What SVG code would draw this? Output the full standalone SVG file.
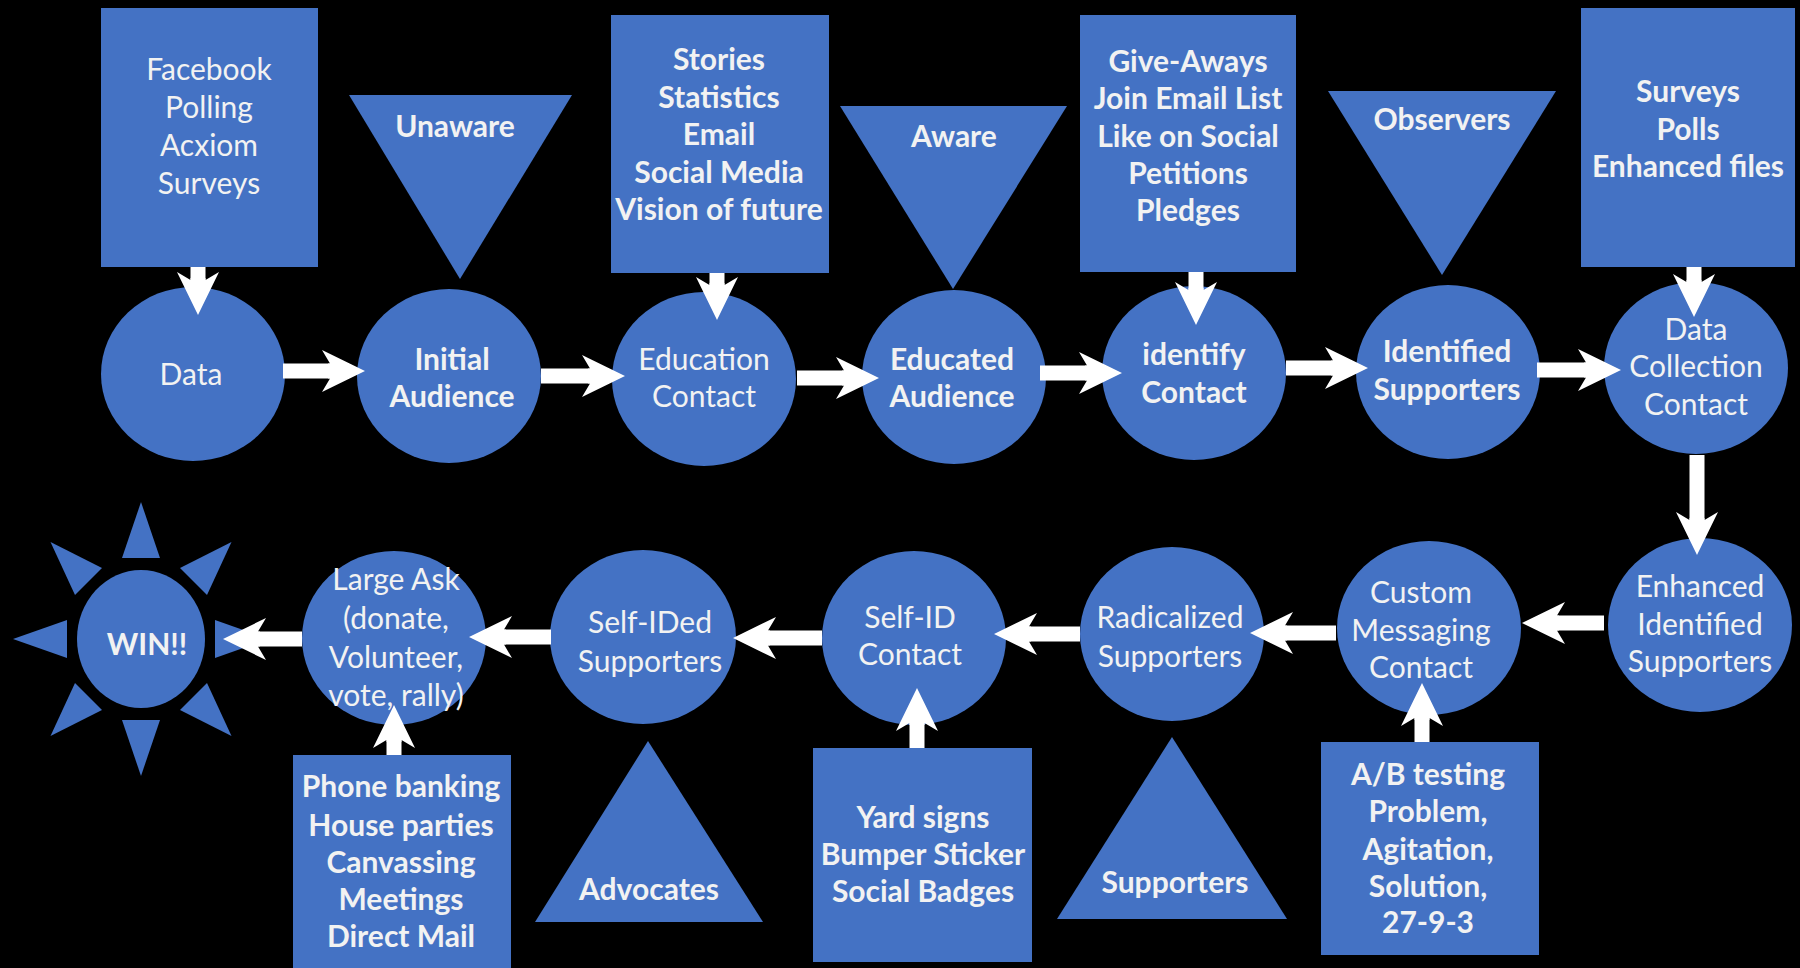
<svg xmlns="http://www.w3.org/2000/svg" width="1800" height="968" viewBox="0 0 1800 968">
<defs>
<style>
.bg{fill:#000}
.sh{fill:#4472C4}
.t{font-family:Lato,"Liberation Sans",sans-serif;font-size:30px;fill:#F2F2F2;text-anchor:middle}
.b{font-weight:bold}
.c{stroke:#FFFFFF;stroke-width:15;fill:none;marker-end:url(#ah)}
</style>
<marker id="ah" markerUnits="userSpaceOnUse" viewBox="0 0 43 42" refX="8" refY="21" markerWidth="43" markerHeight="42" orient="auto">
<path d="M0,0 L43,21 L0,42 L8,28.5 L6,28.5 L6,13.5 L8,13.5 Z" fill="#FFFFFF"/>
</marker>
</defs>
<rect class="bg" x="0" y="0" width="1800" height="968"/>

<!-- top boxes -->
<g id="box-facebook">
<rect class="sh" x="101" y="8" width="217" height="259"/>
<text class="t"><tspan x="209" y="80">Facebook</tspan><tspan x="209" y="118">Polling</tspan><tspan x="209" y="156">Acxiom</tspan><tspan x="209" y="194">Surveys</tspan></text>
</g>
<g id="box-stories">
<rect class="sh" x="611" y="15" width="218" height="258"/>
<text class="t b"><tspan x="719" y="70">Stories</tspan><tspan x="719" y="108">Statistics</tspan><tspan x="719" y="145">Email</tspan><tspan x="719" y="183">Social Media</tspan><tspan x="719" y="220">Vision of future</tspan></text>
</g>
<g id="box-giveaways">
<rect class="sh" x="1080" y="15" width="216" height="257"/>
<text class="t b"><tspan x="1188" y="72">Give-Aways</tspan><tspan x="1188" y="109">Join Email List</tspan><tspan x="1188" y="147">Like on Social</tspan><tspan x="1188" y="184">Petitions</tspan><tspan x="1188" y="221">Pledges</tspan></text>
</g>
<g id="box-surveys">
<rect class="sh" x="1581" y="8" width="214" height="259"/>
<text class="t b"><tspan x="1688" y="102">Surveys</tspan><tspan x="1688" y="140">Polls</tspan><tspan x="1688" y="177">Enhanced files</tspan></text>
</g>

<!-- top triangles -->
<g id="tri-unaware">
<polygon class="sh" points="349,95 572,95 460,279"/>
<text class="t b" x="455" y="137">Unaware</text>
</g>
<g id="tri-aware">
<polygon class="sh" points="840,106 1067,106 953,289"/>
<text class="t b" x="954" y="147">Aware</text>
</g>
<g id="tri-observers">
<polygon class="sh" points="1328,91 1556,91 1442,275"/>
<text class="t b" x="1442" y="130">Observers</text>
</g>

<!-- top circles -->
<g id="c-data">
<ellipse class="sh" cx="193" cy="374" rx="92" ry="87"/>
<text class="t" x="191" y="385">Data</text>
</g>
<g id="c-initial">
<ellipse class="sh" cx="449" cy="376" rx="92" ry="87"/>
<text class="t b"><tspan x="452" y="370">Initial</tspan><tspan x="452" y="407">Audience</tspan></text>
</g>
<g id="c-education">
<ellipse class="sh" cx="704" cy="379" rx="92" ry="87"/>
<text class="t"><tspan x="704" y="370">Education</tspan><tspan x="704" y="407">Contact</tspan></text>
</g>
<g id="c-educated">
<ellipse class="sh" cx="954" cy="377" rx="92" ry="87"/>
<text class="t b"><tspan x="952" y="370">Educated</tspan><tspan x="952" y="407">Audience</tspan></text>
</g>
<g id="c-identify">
<ellipse class="sh" cx="1194" cy="373" rx="92" ry="87"/>
<text class="t b"><tspan x="1194" y="365">identify</tspan><tspan x="1194" y="403">Contact</tspan></text>
</g>
<g id="c-identified">
<ellipse class="sh" cx="1448" cy="372" rx="92" ry="87"/>
<text class="t b"><tspan x="1447" y="362">Identified</tspan><tspan x="1447" y="400">Supporters</tspan></text>
</g>
<g id="c-datacollection">
<ellipse class="sh" cx="1696" cy="368" rx="92" ry="86"/>
<text class="t"><tspan x="1696" y="340">Data</tspan><tspan x="1696" y="377">Collection</tspan><tspan x="1696" y="415">Contact</tspan></text>
</g>

<!-- bottom circles -->
<g id="c-enhanced">
<ellipse class="sh" cx="1700" cy="625" rx="92" ry="87"/>
<text class="t"><tspan x="1700" y="597">Enhanced</tspan><tspan x="1700" y="635">Identified</tspan><tspan x="1700" y="672">Supporters</tspan></text>
</g>
<g id="c-custom">
<ellipse class="sh" cx="1429" cy="628" rx="92" ry="87"/>
<text class="t"><tspan x="1421" y="603">Custom</tspan><tspan x="1421" y="641">Messaging</tspan><tspan x="1421" y="678">Contact</tspan></text>
</g>
<g id="c-radicalized">
<ellipse class="sh" cx="1172" cy="634" rx="92" ry="87"/>
<text class="t"><tspan x="1170" y="628">Radicalized</tspan><tspan x="1170" y="667">Supporters</tspan></text>
</g>
<g id="c-selfid">
<ellipse class="sh" cx="914" cy="638" rx="92" ry="87"/>
<text class="t"><tspan x="910" y="628">Self-ID</tspan><tspan x="910" y="665">Contact</tspan></text>
</g>
<g id="c-selfided">
<ellipse class="sh" cx="643" cy="637" rx="93" ry="87"/>
<text class="t"><tspan x="650" y="633">Self-IDed</tspan><tspan x="650" y="672">Supporters</tspan></text>
</g>
<g id="c-largeask">
<ellipse class="sh" cx="394" cy="638" rx="92" ry="87"/>
<text class="t"><tspan x="396" y="590">Large Ask</tspan><tspan x="396" y="629">(donate,</tspan><tspan x="396" y="668">Volunteer,</tspan><tspan x="396" y="706">vote, rally)</tspan></text>
</g>

<!-- sun -->
<g id="sun-win">
<ellipse class="sh" cx="141" cy="639" rx="64" ry="69"/>
<polygon class="sh" points="141,502 122,558 160,558"/>
<polygon class="sh" points="141,776 122,720 160,720"/>
<polygon class="sh" points="13,639 67,620 67,658"/>
<polygon class="sh" points="269,639 215,620 215,658"/>
<polygon class="sh" points="50.5,542 102,568 75,595"/>
<polygon class="sh" points="231.5,542 180,568 207,595"/>
<polygon class="sh" points="231.5,736 207,683 180,710"/>
<polygon class="sh" points="50.5,736 75,683 102,710"/>
<text class="t b" x="147" y="655">WIN!!</text>
</g>

<!-- bottom boxes -->
<g id="box-phone">
<rect class="sh" x="293" y="755" width="218" height="213"/>
<text class="t b"><tspan x="401" y="797">Phone banking</tspan><tspan x="401" y="836">House parties</tspan><tspan x="401" y="873">Canvassing</tspan><tspan x="401" y="910">Meetings</tspan><tspan x="401" y="947">Direct Mail</tspan></text>
</g>
<g id="box-yard">
<rect class="sh" x="813" y="748" width="219" height="214"/>
<text class="t b"><tspan x="923" y="828">Yard signs</tspan><tspan x="923" y="865">Bumper Sticker</tspan><tspan x="923" y="902">Social Badges</tspan></text>
</g>
<g id="box-ab">
<rect class="sh" x="1321" y="742" width="218" height="213"/>
<text class="t b"><tspan x="1428" y="785">A/B testing</tspan><tspan x="1428" y="822">Problem,</tspan><tspan x="1428" y="860">Agitation,</tspan><tspan x="1428" y="897">Solution,</tspan><tspan x="1428" y="933">27-9-3</tspan></text>
</g>

<!-- bottom triangles -->
<g id="tri-advocates">
<polygon class="sh" points="648,741 763,922 535,922"/>
<text class="t b" x="649" y="900">Advocates</text>
</g>
<g id="tri-supporters">
<polygon class="sh" points="1172,737 1287,919 1057,919"/>
<text class="t b" x="1175" y="893">Supporters</text>
</g>

<!-- connectors -->
<g id="connectors">
<line class="c" x1="283" y1="371" x2="330" y2="371"/>
<line class="c" x1="541" y1="376" x2="590" y2="376"/>
<line class="c" x1="797" y1="378" x2="844" y2="378"/>
<line class="c" x1="1040" y1="373" x2="1087" y2="373"/>
<line class="c" x1="1286" y1="368" x2="1333" y2="368"/>
<line class="c" x1="1537" y1="370" x2="1586" y2="370"/>
<line class="c" x1="198" y1="267" x2="198" y2="280"/>
<line class="c" x1="717" y1="273" x2="717" y2="285"/>
<line class="c" x1="1196" y1="272" x2="1196" y2="290"/>
<line class="c" x1="1694" y1="267" x2="1694" y2="282"/>
<line class="c" x1="1697" y1="455" x2="1697" y2="520"/>
<line class="c" x1="1604" y1="623" x2="1557" y2="623"/>
<line class="c" x1="1336" y1="633" x2="1285" y2="633"/>
<line class="c" x1="1080" y1="634" x2="1029" y2="634"/>
<line class="c" x1="822" y1="638" x2="768" y2="638"/>
<line class="c" x1="551" y1="637" x2="504" y2="637"/>
<line class="c" x1="302" y1="639" x2="258" y2="639"/>
<line class="c" x1="394" y1="755" x2="394" y2="740"/>
<line class="c" x1="917" y1="748" x2="917" y2="723"/>
<line class="c" x1="1422" y1="742" x2="1422" y2="718"/>
</g>
</svg>
